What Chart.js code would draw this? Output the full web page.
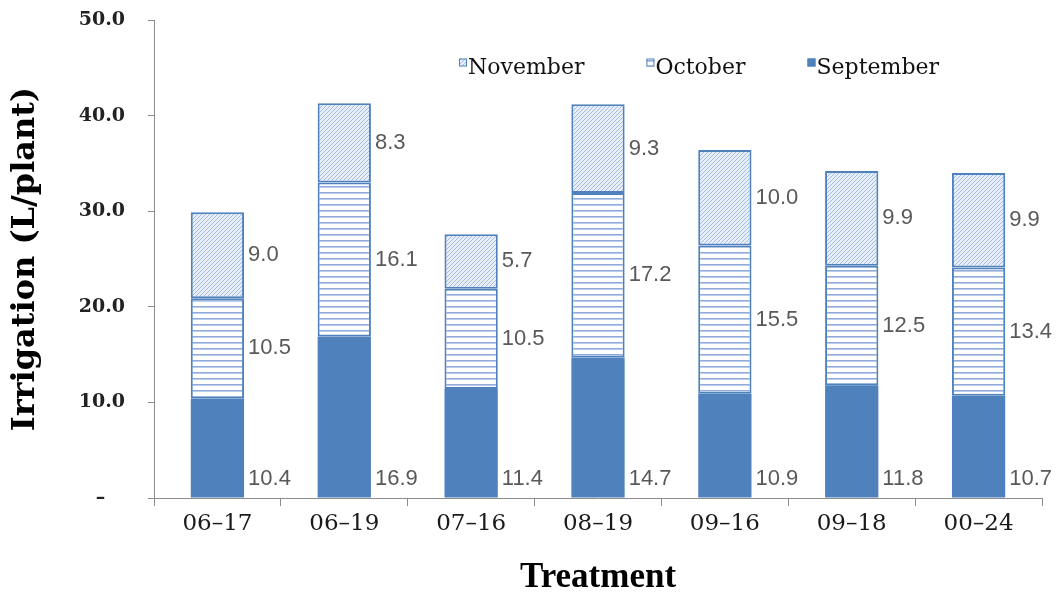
<!DOCTYPE html>
<html>
<head>
<meta charset="utf-8">
<script src="https://cdn.jsdelivr.net/npm/chart.js@4.4.1/dist/chart.umd.min.js"></script>
<style>
  html, body { margin: 0; padding: 0; background: #ffffff; }
  #wrap { width: 1060px; height: 595px; }
</style>
</head>
<body>
<div id="wrap"><canvas id="c" width="1060" height="595"></canvas></div>
<script>
// Irrigation per plant by treatment, split by month
const treatments = ['06–17', '06–19', '07–16', '08–19', '09–16', '09–18', '00–24'];
const september  = [10.4, 16.9, 11.4, 14.7, 10.9, 11.8, 10.7];
const october    = [10.5, 16.1, 10.5, 17.2, 15.5, 12.5, 13.4];
const november   = [9.0, 8.3, 5.7, 9.3, 10.0, 9.9, 9.9];
const yTicks     = [0, 10, 20, 30, 40, 50];

const canvas = document.getElementById('c');
const ctx = canvas.getContext('2d');

// fine diagonal hatch on a pale blue ground
function diagonalHatch() {
  const t = document.createElement('canvas');
  t.width = 4; t.height = 4;
  const g = t.getContext('2d');
  g.fillStyle = '#e9effa';
  g.fillRect(0, 0, 4, 4);
  g.strokeStyle = '#a4bce4';
  g.lineWidth = 1;
  g.beginPath();
  g.moveTo(0, 4); g.lineTo(4, 0);
  g.moveTo(-1, 1); g.lineTo(1, -1);
  g.moveTo(3, 5); g.lineTo(5, 3);
  g.stroke();
  return ctx.createPattern(t, 'repeat');
}

// horizontal blue stripes on white
function horizontalStripes() {
  const t = document.createElement('canvas');
  t.width = 6; t.height = 6;
  const g = t.getContext('2d');
  g.fillStyle = '#ffffff';
  g.fillRect(0, 0, 6, 6);
  g.fillStyle = '#8eabdc';
  g.fillRect(0, 0, 6, 1.6);
  return ctx.createPattern(t, 'repeat');
}

const blue = '#4f81bd';
const axisGrey = '#8c8c8c';

// value printed beside every bar segment
const valueLabels = {
  id: 'valueLabels',
  afterDatasetsDraw(chart, args, opts) {
    const c = chart.ctx;
    c.save();
    c.font = opts.font;
    c.fillStyle = opts.color;
    c.textAlign = 'left';
    c.textBaseline = 'middle';
    chart.data.datasets.forEach((ds, i) => {
      const meta = chart.getDatasetMeta(i);
      meta.data.forEach((bar, j) => {
        const top = Math.min(bar.y, bar.base);
        const bottom = Math.max(bar.y, bar.base);
        const y = ds.labelAnchor === 'bottom' ? bottom - opts.bottomInset : (top + bottom) / 2;
        c.fillText(ds.data[j].toFixed(1), bar.x + bar.width / 2 + opts.gap, y);
      });
    });
    c.restore();
  }
};

// month key drawn inside the plot, last series first
const monthLegend = {
  id: 'monthLegend',
  afterDraw(chart, args, opts) {
    const c = chart.ctx;
    c.save();
    c.font = opts.font;
    c.textAlign = 'left';
    c.textBaseline = 'alphabetic';
    let x = opts.x;
    const y = opts.y;
    chart.data.datasets.slice().reverse().forEach(ds => {
      c.fillStyle = ds.backgroundColor;
      c.fillRect(x, y - 4, 8, 8);
      c.strokeStyle = ds.borderColor;
      c.lineWidth = 1;
      c.strokeRect(x + 0.5, y - 3.5, 7, 7);
      c.fillStyle = '#111111';
      c.fillText(ds.label, x + 9, y + 11);
      x += 9 + c.measureText(ds.label).width + opts.gap;
    });
    c.restore();
  }
};

new Chart(canvas, {
  type: 'bar',
  data: {
    labels: treatments,
    datasets: [
      { label: 'September', data: september, backgroundColor: blue, borderColor: blue,
        borderWidth: 0, labelAnchor: 'bottom' },
      { label: 'October', data: october, backgroundColor: horizontalStripes(), borderColor: blue,
        borderWidth: 2, borderSkipped: false, labelAnchor: 'middle' },
      { label: 'November', data: november, backgroundColor: diagonalHatch(), borderColor: blue,
        borderWidth: 2, borderSkipped: false, labelAnchor: 'middle' }
    ]
  },
  options: {
    responsive: false,
    animation: false,
    devicePixelRatio: 1,
    layout: { padding: { top: 0, right: 18, bottom: 0, left: 0 } },
    datasets: { bar: { barPercentage: 0.42, categoryPercentage: 1 } },
    plugins: {
      legend: { display: false },
      tooltip: { enabled: false },
      valueLabels: { font: '22px "Liberation Sans"', color: '#595959', gap: 4, bottomInset: 19 },
      monthLegend: { font: '22px "DejaVu Serif"', x: 459, y: 62.5, gap: 62 }
    },
    scales: {
      x: {
        stacked: true,
        offset: true,
        grid: { offset: true, drawOnChartArea: false, drawTicks: true, tickLength: 8, color: axisGrey },
        border: { color: axisGrey, width: 1 },
        ticks: { font: { family: 'DejaVu Serif', size: 23 }, color: '#1a1a1a', padding: 4,
                 maxRotation: 0, autoSkip: false },
        title: { display: true, text: 'Treatment', color: '#000000', padding: 0,
                 font: { family: 'Liberation Serif', size: 35, weight: 'bold', lineHeight: 0.95 } },
        afterFit(s) { s.height = 97; }
      },
      y: {
        stacked: true,
        min: 0,
        max: 50,
        afterBuildTicks(s) { s.ticks = yTicks.map(v => ({ value: v })); },
        grid: { drawOnChartArea: false, drawTicks: true, tickLength: 6, color: axisGrey },
        border: { color: axisGrey, width: 1 },
        ticks: { font: { family: 'DejaVu Serif', size: 19, weight: 'bold' }, color: '#222222', padding: 23,
                 callback: v => (v === 0 ? '–   ' : v.toFixed(1)) },
        title: { display: true, text: 'Irrigation (L/plant)', color: '#000000', padding: { top: 6, bottom: 0 },
                 font: { family: 'DejaVu Serif', size: 32, weight: 'bold' } },
        afterFit(s) {
          s.width = 154;
          s.paddingTop = 20;
          s.paddingBottom = 0;
        }
      }
    }
  },
  plugins: [valueLabels, monthLegend]
});
</script>
</body>
</html>
